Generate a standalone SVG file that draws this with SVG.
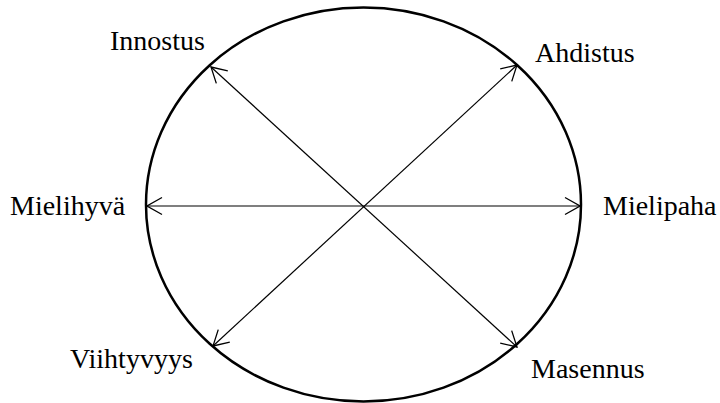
<svg xmlns="http://www.w3.org/2000/svg" width="720" height="403" viewBox="0 0 720 403">
<style>
.lbl{font-family:"Liberation Serif","Times New Roman",serif;font-size:28px;fill:#000}
.ax{stroke:#000;stroke-width:1.2;fill:none;marker-start:url(#ah);marker-end:url(#ah)}
</style>
<defs>
<marker id="ah" viewBox="0 0 17 20" refX="16" refY="10" markerWidth="17" markerHeight="20" markerUnits="userSpaceOnUse" orient="auto-start-reverse">
<path d="M1,1.5 L16,10 L1,18.5" fill="none" stroke="#000" stroke-width="1.3"/>
</marker>
</defs>
<rect width="720" height="403" fill="#fff"/>
<g id="circle"><ellipse cx="363.5" cy="204.5" rx="217.5" ry="197" fill="none" stroke="#000" stroke-width="2.5"/></g>
<g id="connectors">
<line class="ax" x1="147" y1="206" x2="580" y2="206"/>
<line class="ax" x1="211" y1="67" x2="517" y2="347"/>
<line class="ax" x1="517" y1="65" x2="213" y2="346"/>
</g>
<g id="innostus"><text class="lbl" x="110" y="50">Innostus</text></g>
<g id="ahdistus"><text class="lbl" x="535" y="62">Ahdistus</text></g>
<g id="mielihyva"><text class="lbl" x="10" y="215">Mielihyvä</text></g>
<g id="mielipaha"><text class="lbl" x="603" y="215">Mielipaha</text></g>
<g id="viihtyvyys"><text class="lbl" x="70" y="368">Viihtyvyys</text></g>
<g id="masennus"><text class="lbl" x="531" y="378">Masennus</text></g>
</svg>
